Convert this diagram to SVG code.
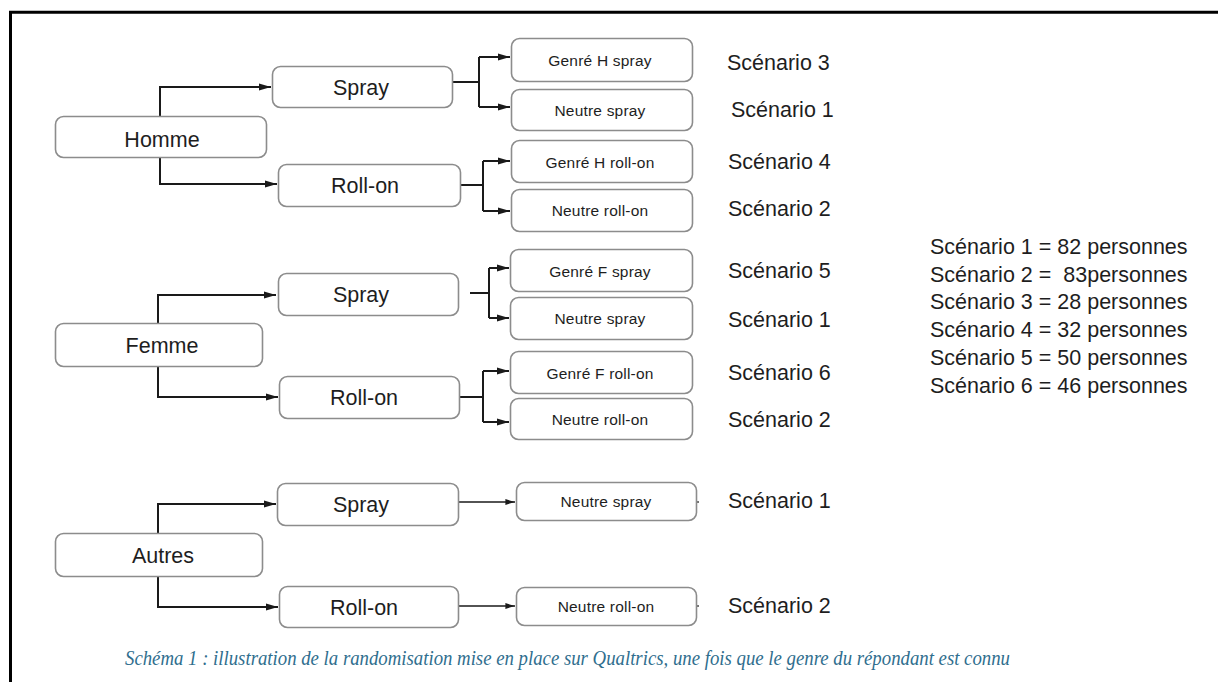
<svg xmlns="http://www.w3.org/2000/svg" width="1218" height="682" viewBox="0 0 1218 682">
  <style>
    .box { fill: #ffffff; stroke: #8c8c8c; stroke-width: 1.6; }
    .lbl { font-family: "Liberation Sans", Arial, sans-serif; fill: #1e1e1e; text-anchor: middle; }
    .big { font-size: 21.5px; }
    .small { font-size: 15.5px; letter-spacing: 0.2px; }
    .scen { font-family: "Liberation Sans", Arial, sans-serif; font-size: 21.5px; fill: #1e1e1e; }
    .conn { fill: none; stroke: #1a1a1a; stroke-width: 2; }
    .arr { fill: none; stroke: #1a1a1a; stroke-width: 2; marker-end: url(#head); }
    .caption { font-family: "Liberation Serif", "Times New Roman", serif; font-style: italic; font-size: 20px; fill: #2f6e8e; }
  </style>
  <defs>
    <marker id="head" viewBox="0 0 10 6" refX="10" refY="3" markerWidth="6" markerHeight="3.6" markerUnits="strokeWidth" orient="auto">
      <path d="M0,0 L10,3 L0,6 Z" fill="#1a1a1a"/>
    </marker>
  </defs>

  <rect width="1218" height="682" fill="#ffffff"/>
  <!-- outer frame: top and left edges -->
  <path d="M10.5,682 V12.3 H1218" fill="none" stroke="#000000" stroke-width="3"/>

  <!-- connectors -->
  <g id="connectors">
    <!-- Homme -->
    <path class="arr" d="M160,117 V87 H271"/>
    <path class="arr" d="M160,157 V184 H277"/>
    <path class="conn" d="M453,82 H479"/>
    <path class="conn" d="M479,57 V107"/>
    <path class="arr" d="M479,57 H510"/>
    <path class="arr" d="M479,107 H510"/>
    <path class="conn" d="M461,185 H483"/>
    <path class="conn" d="M483,161 V211"/>
    <path class="arr" d="M483,161 H510"/>
    <path class="arr" d="M483,211 H510"/>
    <!-- Femme -->
    <path class="arr" d="M158,323 V295 H276"/>
    <path class="arr" d="M158,366 V397 H278"/>
    <path class="conn" d="M470,293 H489"/>
    <path class="conn" d="M489,268 V318"/>
    <path class="arr" d="M489,268 H509"/>
    <path class="arr" d="M489,318 H509"/>
    <path class="conn" d="M459,397 H483"/>
    <path class="conn" d="M483,371 V422"/>
    <path class="arr" d="M483,371 H509"/>
    <path class="arr" d="M483,422 H509"/>
    <!-- Autres -->
    <path class="arr" d="M158,533 V504 H276"/>
    <path class="arr" d="M158,576 V607 H278"/>
    <path class="arr" d="M458,502 H515" style="stroke-width:1.6"/>
    <path class="arr" d="M458,606 H515" style="stroke-width:1.6"/>
    <path class="conn" d="M696,502 H699" style="stroke-width:1.2"/>
    <path class="conn" d="M696,606 H699" style="stroke-width:1.2"/>
  </g>

  <!-- Homme branch -->
  <g id="homme">
    <rect class="box" x="55.5" y="116.5" width="211" height="41" rx="8"/>
    <text class="lbl big" x="162" y="147">Homme</text>
  </g>
  <g id="homme-spray">
    <rect class="box" x="272.5" y="66.5" width="180" height="41" rx="8"/>
    <text class="lbl big" x="361" y="95">Spray</text>
  </g>
  <g id="homme-rollon">
    <rect class="box" x="278.5" y="164.5" width="182" height="42" rx="8"/>
    <text class="lbl big" x="365" y="193">Roll-on</text>
  </g>
  <g id="h-genre-spray">
    <rect class="box" x="511.5" y="38.5" width="181" height="43" rx="8"/>
    <text class="lbl small" x="600" y="66">Genré H spray</text>
  </g>
  <g id="h-neutre-spray">
    <rect class="box" x="511.5" y="89.5" width="181" height="41" rx="8"/>
    <text class="lbl small" x="600" y="116">Neutre spray</text>
  </g>
  <g id="h-genre-rollon">
    <rect class="box" x="511.5" y="140.5" width="181" height="42" rx="8"/>
    <text class="lbl small" x="600" y="168">Genré H roll-on</text>
  </g>
  <g id="h-neutre-rollon">
    <rect class="box" x="511.5" y="189.5" width="181" height="42" rx="8"/>
    <text class="lbl small" x="600" y="216">Neutre roll-on</text>
  </g>

  <!-- Femme branch -->
  <g id="femme">
    <rect class="box" x="55.5" y="323.5" width="207" height="43" rx="8"/>
    <text class="lbl big" x="162" y="353">Femme</text>
  </g>
  <g id="femme-spray">
    <rect class="box" x="278.5" y="273.5" width="180" height="42" rx="8"/>
    <text class="lbl big" x="361" y="302">Spray</text>
  </g>
  <g id="femme-rollon">
    <rect class="box" x="279.5" y="376.5" width="180" height="42" rx="8"/>
    <text class="lbl big" x="364" y="405">Roll-on</text>
  </g>
  <g id="f-genre-spray">
    <rect class="box" x="510.5" y="249.5" width="182" height="42" rx="8"/>
    <text class="lbl small" x="600" y="277">Genré F spray</text>
  </g>
  <g id="f-neutre-spray">
    <rect class="box" x="510.5" y="297.5" width="182" height="42" rx="8"/>
    <text class="lbl small" x="600" y="324">Neutre spray</text>
  </g>
  <g id="f-genre-rollon">
    <rect class="box" x="510.5" y="351.5" width="182" height="42" rx="8"/>
    <text class="lbl small" x="600" y="379">Genré F roll-on</text>
  </g>
  <g id="f-neutre-rollon">
    <rect class="box" x="510.5" y="398.5" width="182" height="41" rx="8"/>
    <text class="lbl small" x="600" y="425">Neutre roll-on</text>
  </g>

  <!-- Autres branch -->
  <g id="autres">
    <rect class="box" x="55.5" y="533.5" width="207" height="43" rx="8"/>
    <text class="lbl big" x="163" y="563">Autres</text>
  </g>
  <g id="autres-spray">
    <rect class="box" x="277.5" y="483.5" width="181" height="42" rx="8"/>
    <text class="lbl big" x="361" y="512">Spray</text>
  </g>
  <g id="autres-rollon">
    <rect class="box" x="279.5" y="586.5" width="179" height="41" rx="8"/>
    <text class="lbl big" x="364" y="615">Roll-on</text>
  </g>
  <g id="a-neutre-spray">
    <rect class="box" x="516.5" y="482.5" width="180" height="38" rx="8"/>
    <text class="lbl small" x="606" y="507">Neutre spray</text>
  </g>
  <g id="a-neutre-rollon">
    <rect class="box" x="516.5" y="587.5" width="180" height="38" rx="8"/>
    <text class="lbl small" x="606" y="612">Neutre roll-on</text>
  </g>

  <!-- scenario labels -->
  <g id="scenarios">
    <text class="scen" x="727" y="70">Scénario 3</text>
    <text class="scen" x="731" y="117">Scénario 1</text>
    <text class="scen" x="728" y="169">Scénario 4</text>
    <text class="scen" x="728" y="216">Scénario 2</text>
    <text class="scen" x="728" y="278">Scénario 5</text>
    <text class="scen" x="728" y="327">Scénario 1</text>
    <text class="scen" x="728" y="380">Scénario 6</text>
    <text class="scen" x="728" y="427">Scénario 2</text>
    <text class="scen" x="728" y="508">Scénario 1</text>
    <text class="scen" x="728" y="613">Scénario 2</text>
  </g>

  <!-- counts per scenario -->
  <g id="legend">
    <text class="scen" x="930" y="254">Scénario 1 = 82 personnes</text>
    <text class="scen" x="930" y="282" xml:space="preserve">Scénario 2 =  83personnes</text>
    <text class="scen" x="930" y="309">Scénario 3 = 28 personnes</text>
    <text class="scen" x="930" y="337">Scénario 4 = 32 personnes</text>
    <text class="scen" x="930" y="365">Scénario 5 = 50 personnes</text>
    <text class="scen" x="930" y="393">Scénario 6 = 46 personnes</text>
  </g>

  <text id="caption" class="caption" x="125" y="665" textLength="885" lengthAdjust="spacingAndGlyphs">Schéma 1 : illustration de la randomisation mise en place sur Qualtrics, une fois que le genre du répondant est connu</text>
</svg>
